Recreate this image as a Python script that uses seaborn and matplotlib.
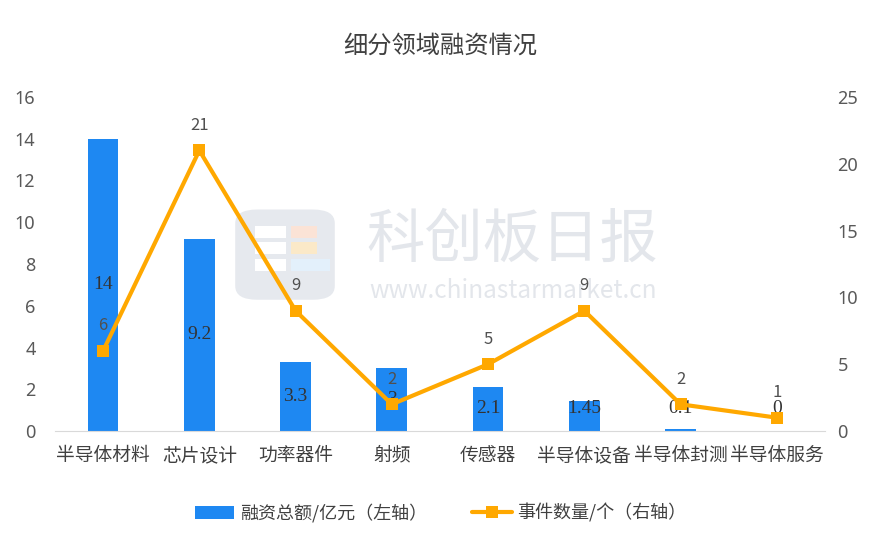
import matplotlib
matplotlib.use('Agg')
import matplotlib.pyplot as plt
from matplotlib.patches import FancyBboxPatch, Rectangle
from matplotlib.lines import Line2D
from matplotlib.patches import Patch
import seaborn as sns
import pandas as pd
import numpy as np

sns.set_style('white')
plt.rcParams['font.family'] = ['Noto Sans CJK SC', 'DejaVu Sans']

# 数据
categories = ['半导体材料', '芯片设计', '功率器件', '射频', '传感器', '半导体设备', '半导体封测', '半导体服务']
amount = [14, 9.2, 3.3, 3, 2.1, 1.45, 0.1, 0]      # 融资总额/亿元
amount_labels = ['14', '9.2', '3.3', '3', '2.1', '1.45', '0.1', '0']
events = [6, 21, 9, 2, 5, 9, 2, 1]                  # 事件数量/个

bar_color = '#1E88F2'
line_color = '#FFA800'
tick_color = '#595959'

df = pd.DataFrame({'cat': categories, 'amount': amount, 'events': events})

fig = plt.figure(figsize=(8.81, 5.47), dpi=100)
ax = fig.add_axes([0.0624, 0.212, 0.874, 0.6107])

# 水印
fig.patches.append(FancyBboxPatch((0.267, 0.452), 0.113, 0.165, boxstyle='round,pad=0,rounding_size=0.025',
                                  transform=fig.transFigure, facecolor='#e6e9ee', edgecolor='none', zorder=0))
for (x0, y0, w, h, c) in [(0.29, 0.565, 0.035, 0.022, '#ffffff'), (0.33, 0.565, 0.03, 0.022, '#fbe3d6'),
                          (0.29, 0.535, 0.035, 0.022, '#ffffff'), (0.33, 0.535, 0.03, 0.022, '#fbe9c8'),
                          (0.29, 0.505, 0.035, 0.022, '#ffffff'), (0.33, 0.505, 0.045, 0.022, '#e3f0fb')]:
    fig.patches.append(Rectangle((x0, y0), w, h, transform=fig.transFigure, facecolor=c,
                                 edgecolor='none', zorder=0))
fig.text(0.582, 0.56, '科创板日报', fontsize=42, color='#e3e6eb', ha='center', va='center', zorder=0)
fig.text(0.582, 0.468, 'www.chinastarmarket.cn', fontsize=17.5, color='#e3e6eb', ha='center', va='center', zorder=0)
ax.set_zorder(1)
ax.patch.set_alpha(0)

sns.barplot(data=df, x='cat', y='amount', color=bar_color, width=0.32, saturation=1, linewidth=0, ax=ax)
ax.set_xlim(-0.5, 7.5)
ax.set_ylim(0, 16)
ax.set_yticks(range(0, 17, 2))
ax.set_xlabel('')
ax.set_ylabel('')
# 数据标签居中，矮柱子的标签不低于 1.1
for i, v in enumerate(amount):
    ax.text(i, max(v / 2, 1.1), amount_labels[i], ha='center', va='center', fontsize=14,
            family='Liberation Serif', color='#333333', zorder=5)

ax2 = ax.twinx()
sns.lineplot(x=np.arange(len(events)), y=events, sort=False, color=line_color, linewidth=3,
             marker='s', markersize=9, markeredgewidth=0, ax=ax2)
ax2.set_ylim(0, 25)
ax2.set_yticks(range(0, 26, 5))
for i, v in enumerate(events):
    ax2.annotate(str(v), (i, v), xytext=(0, 12), textcoords='offset points', ha='center', va='bottom',
                 fontsize=12, color='#505050')

for a in (ax, ax2):
    for s in a.spines.values():
        s.set_visible(False)
    a.tick_params(length=0, labelsize=13, colors=tick_color)
ax.spines['bottom'].set_visible(True)
ax.spines['bottom'].set_color('#d9d9d9')
ax.tick_params(axis='x', labelsize=13.5, colors='#404040', pad=10)
ax.tick_params(axis='y', pad=14)
ax2.tick_params(axis='y', pad=9)
for lbl in ax.get_yticklabels() + ax2.get_yticklabels():
    lbl.set_fontfamily('Noto Sans')

fig.text(0.5, 0.916, '细分领域融资情况', ha='center', va='center', fontsize=17.5, color='#404040')

handles = [Patch(facecolor=bar_color, edgecolor='none', label='融资总额/亿元（左轴）'),
           Line2D([0], [0], color=line_color, lw=3, marker='s', markersize=8, markeredgewidth=0,
                  label='事件数量/个（右轴）')]
fig.legend(handles=handles, loc='center', bbox_to_anchor=(0.5, 0.062), ncol=2, frameon=False,
           fontsize=13, handlelength=2.2, handletextpad=0.3, columnspacing=2.5, labelcolor='#404040')

fig.savefig('out.png', dpi=100)
